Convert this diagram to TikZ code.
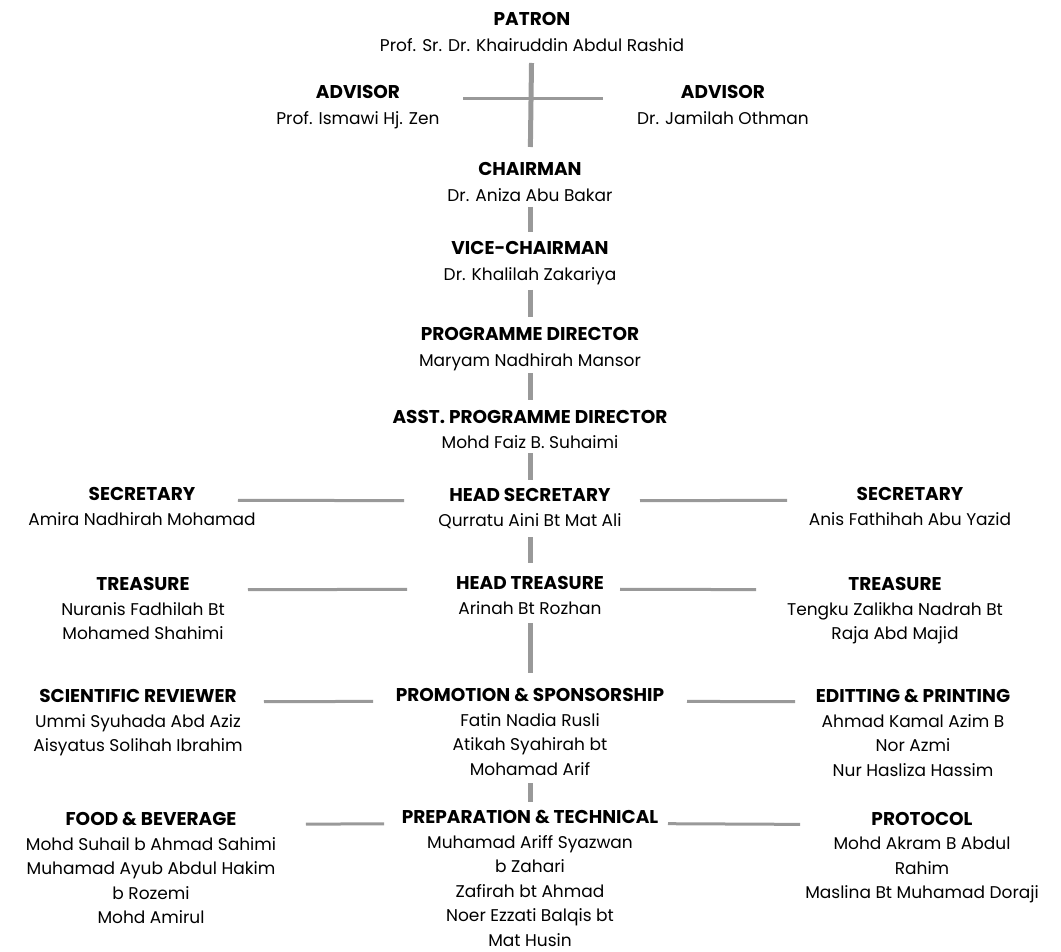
\documentclass[tikz,border=0pt]{standalone}
\usepackage{fontspec}
\setmainfont{Poppins}
\usetikzlibrary{positioning}
\definecolor{linkgray}{gray}{0.6}
\newcommand\rolefont{\fontsize{18.5}{24.5}\selectfont\bfseries}
\newcommand\namefont{\fontsize{17}{24.5}\selectfont}
\begin{document}
\begin{tikzpicture}[x=1pt,y=-1pt,
	role/.style={font=\rolefont,inner sep=0pt,anchor=base},
	members/.style={font=\namefont,align=center,inner sep=0pt,anchor=north},
	link/.style={draw=linkgray,line width=3pt},
	stem/.style={draw=linkgray,line width=5pt}
]
	\useasboundingbox (0,0) rectangle (1061,952);

	\def \cx {530};
	\def \rx {910};

	% centre column
	\node[role] (patron) at (532,26) {PATRON};
	\node[members,below=12pt of patron.base] (patronM) {Prof. Sr. Dr. Khairuddin Abdul Rashid};
	\node[role] (advL) at (358,99) {ADVISOR};
	\node[members,below=12pt of advL.base] (advLM) {Prof. Ismawi Hj. Zen};
	\node[role] (advR) at (723,99) {ADVISOR};
	\node[members,below=12pt of advR.base] (advRM) {Dr. Jamilah Othman};
	\node[role] (chair) at (\cx,176) {CHAIRMAN};
	\node[members,below=12pt of chair.base] (chairM) {Dr. Aniza Abu Bakar};
	\node[role] (vice) at (\cx,255) {VICE-CHAIRMAN};
	\node[members,below=12pt of vice.base] (viceM) {Dr. Khalilah Zakariya};
	\node[role] (prog) at (\cx,341) {PROGRAMME DIRECTOR};
	\node[members,below=12pt of prog.base] (progM) {Maryam Nadhirah Mansor};
	\node[role] (asst) at (\cx,423) {ASST. PROGRAMME DIRECTOR};
	\node[members,below=12pt of asst.base] (asstM) {Mohd Faiz B. Suhaimi};
	\node[role] (hsec) at (\cx,501) {HEAD SECRETARY};
	\node[members,below=12pt of hsec.base] (hsecM) {Qurratu Aini Bt Mat Ali};
	\node[role] (htreas) at (\cx,589) {HEAD TREASURE};
	\node[members,below=12pt of htreas.base] (htreasM) {Arinah Bt Rozhan};
	\node[role] (promo) at (\cx,701) {PROMOTION \& SPONSORSHIP};
	\node[members,below=12pt of promo.base] (promoM) {Fatin Nadia Rusli\\Atikah Syahirah bt\\Mohamad Arif};
	\node[role] (prep) at (\cx,823) {PREPARATION \& TECHNICAL};
	\node[members,below=12pt of prep.base] (prepM) {Muhamad Ariff Syazwan\\b Zahari\\Zafirah bt Ahmad\\Noer Ezzati Balqis bt\\Mat Husin};

	% left column
	\node[role] (secL) at (142,500) {SECRETARY};
	\node[members,below=12pt of secL.base] (secLM) {Amira Nadhirah Mohamad};
	\node[role] (treasL) at (143,590) {TREASURE};
	\node[members,below=12pt of treasL.base] (treasLM) {Nuranis Fadhilah Bt\\Mohamed Shahimi};
	\node[role] (sciL) at (138,702) {SCIENTIFIC REVIEWER};
	\node[members,below=12pt of sciL.base] (sciLM) {Ummi Syuhada Abd Aziz\\Aisyatus Solihah Ibrahim};
	\node[role] (foodL) at (151,825) {FOOD \& BEVERAGE};
	\node[members,below=12pt of foodL.base] (foodLM) {Mohd Suhail b Ahmad Sahimi\\Muhamad Ayub Abdul Hakim\\b Rozemi\\Mohd Amirul};

	% right column
	\node[role] (secR) at (\rx,500) {SECRETARY};
	\node[members,below=12pt of secR.base] (secRM) {Anis Fathihah Abu Yazid};
	\node[role] (treasR) at (895,590) {TREASURE};
	\node[members,below=12pt of treasR.base] (treasRM) {Tengku Zalikha Nadrah Bt\\Raja Abd Majid};
	\node[role] (editR) at (913,702) {EDITTING \& PRINTING};
	\node[members,below=12pt of editR.base] (editRM) {Ahmad Kamal Azim B\\Nor Azmi\\Nur Hasliza Hassim};
	\node[role] (protR) at (922,825) {PROTOCOL};
	\node[members,below=12pt of protR.base] (protRM) {Mohd Akram B Abdul\\Rahim\\Maslina Bt Muhamad Doraji};

	% vertical stems
	\foreach \a/\b/\s/\e in {patron/chair/37pt/29pt, chair/vice/31pt/23pt,
		vice/prog/35pt/24pt, prog/asst/32pt/23pt, asst/hsec/30pt/21pt,
		hsec/htreas/36pt/26pt, htreas/promo/34pt/28pt, promo/prep/82pt/21pt}
		\draw[stem,shorten <=\s,shorten >=\e] (\a.base) -- (\b.base);

	% horizontal links
	\foreach \a/\b/\s/\e in {advL/advR/105pt/120pt,
		secL/hsec/96pt/126pt, hsec/secR/110pt/123pt,
		treasL/htreas/105pt/123pt, htreas/treasR/90pt/139pt,
		sciL/promo/126pt/157pt, promo/editR/157pt/118pt,
		foodL/prep/155pt/146pt, prep/protR/138pt/122pt}
		\draw[link,shorten <=\s,shorten >=\e] (\a.base) -- (\b.base);
\end{tikzpicture}
\end{document}
